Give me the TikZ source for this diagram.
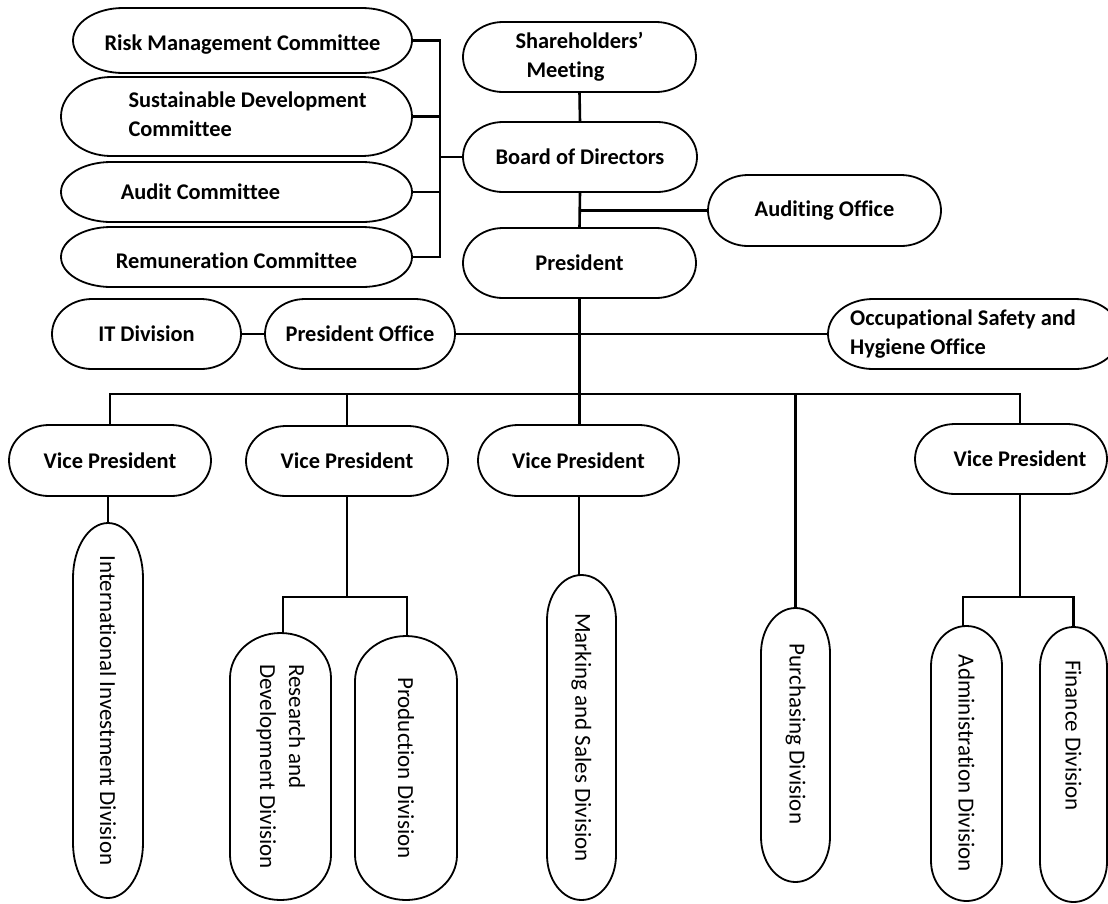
\documentclass[tikz,border=0pt]{standalone}
\usepackage{fontspec}
\setmainfont{Carlito}[Ligatures={NoCommon}]
\usepackage{graphicx}
\usetikzlibrary{calc}
\newcommand\bfnt{\fontsize{22.4}{29}\selectfont\bfseries}
\newcommand\rgnt{\fontsize{23}{29}\selectfont}
\newcommand\lowertxt[1]{\raisebox{0pt}[\dimexpr\height+8pt\relax]{#1}}
\newcommand\pillbox[3]{%
  \draw[outln] ([xshift=#2pt]#1.north west) -- ([xshift=-#2pt]#1.north east)
    arc[start angle=90,end angle=0,x radius=#2pt,y radius=#3pt]
    -- ([yshift=#3pt]#1.south east)
    arc[start angle=0,end angle=-90,x radius=#2pt,y radius=#3pt]
    -- ([xshift=#2pt]#1.south west)
    arc[start angle=270,end angle=180,x radius=#2pt,y radius=#3pt]
    -- ([yshift=-#3pt]#1.north west)
    arc[start angle=180,end angle=90,x radius=#2pt,y radius=#3pt] -- cycle;}
\tikzset{
  hbox/.style={draw=none, outer sep=0pt, inner sep=0pt, font=\bfnt, align=center},
  vbox/.style={draw=none, outer sep=0pt, inner sep=0pt, font=\rgnt},
  outln/.style={line width=1.8pt, black},
  conn/.style={line width=2.6pt, black}
}
\begin{document}
\begin{tikzpicture}[x=1pt,y=1pt]
\useasboundingbox (0,0) rectangle (1108,-903);
\fill[white] (0,0) rectangle (1108,-903);
% committees
\node[hbox, minimum width=339pt, minimum height=65pt] (risk) at (242.5,-40.5) {\lowertxt{Risk Management Committee}};
\node[hbox, minimum width=351pt, minimum height=79pt] (sust) at (236.5,-116.5) {\hspace*{22pt}\begin{tabular}{@{}l@{}}Sustainable Development\\Committee\end{tabular}};
\node[hbox, minimum width=351pt, minimum height=60pt] (audit) at (236.5,-192) {Audit Committee\hspace*{72pt}};
\node[hbox, minimum width=351pt, minimum height=60pt] (remun) at (236.5,-257) {\lowertxt{Remuneration Committee}};
% top chain
\node[hbox, minimum width=233pt, minimum height=70pt] (share) at (579.5,-57) {\begin{tabular}{@{}c@{}}Shareholders’\\Meeting\hspace*{28pt}\end{tabular}};
\node[hbox, minimum width=234pt, minimum height=70pt] (board) at (580,-157) {Board of Directors};
\node[hbox, minimum width=233pt, minimum height=71pt] (audoff) at (824.5,-210.5) {Auditing Office};
\node[hbox, minimum width=233pt, minimum height=70pt] (pres) at (579.5,-263) {President};
% office row
\node[hbox, minimum width=189pt, minimum height=70pt] (itdiv) at (146.5,-334) {IT Division};
\node[hbox, minimum width=190pt, minimum height=70pt] (presoff) at (360,-334) {President Office};
\node[hbox, minimum width=292pt, minimum height=70pt] (osh) at (974,-334) {\begin{tabular}{@{}l@{}}Occupational Safety and\\Hygiene Office\end{tabular}\hspace*{22pt}};
% vice presidents
\node[hbox, minimum width=202pt, minimum height=71pt] (vpa) at (110,-460.5) {Vice President};
\node[hbox, minimum width=202pt, minimum height=70pt] (vpb) at (347,-461) {Vice President};
\node[hbox, minimum width=201pt, minimum height=71pt] (vpc) at (578.5,-460.5) {Vice President};
\node[hbox, minimum width=192pt, minimum height=70pt] (vpd) at (1011,-459) {\hspace*{18pt}Vice President};
% divisions
\node[vbox, minimum width=70pt, minimum height=375pt] (intl) at (108,-710.5) {\rotatebox{-90}{International Investment Division}};
\node[vbox, minimum width=101pt, minimum height=267pt] (rnd) at (280.5,-766.5) {\rotatebox{-90}{\begin{tabular}{@{}l@{}}Research and\\Development Division\end{tabular}}};
\node[vbox, minimum width=102pt, minimum height=264pt] (prod) at (406,-768) {\rotatebox{-90}{Production Division}};
\node[vbox, minimum width=69pt, minimum height=325pt] (mark) at (581.5,-737.5) {\rotatebox{-90}{Marking and Sales Division}};
\node[vbox, minimum width=69pt, minimum height=274pt] (purch) at (795.5,-745) {\rotatebox{-90}{Purchasing Division\hspace*{22pt}}};
\node[vbox, minimum width=71pt, minimum height=275pt] (admin) at (966.5,-763.5) {\rotatebox{-90}{Administration Division}};
\node[vbox, minimum width=67pt, minimum height=275pt] (fin) at (1073.5,-764.5) {\rotatebox{-90}{Finance Division\hspace*{58pt}}};
% outlines
\pillbox{risk}{50}{32.5}
\pillbox{sust}{50}{39.5}
\pillbox{audit}{50}{30}
\pillbox{remun}{50}{30}
\pillbox{share}{40}{35}
\pillbox{board}{40}{35}
\pillbox{audoff}{40}{35.5}
\pillbox{pres}{40}{35}
\pillbox{itdiv}{40}{35}
\pillbox{presoff}{40}{35}
\pillbox{osh}{45}{35}
\pillbox{vpa}{40}{35.5}
\pillbox{vpb}{40}{35}
\pillbox{vpc}{40}{35.5}
\pillbox{vpd}{40}{35}
\pillbox{intl}{35}{55}
\pillbox{rnd}{50.5}{45}
\pillbox{prod}{51}{45}
\pillbox{mark}{34.5}{45}
\pillbox{purch}{34.5}{45}
\pillbox{admin}{35.5}{40}
\pillbox{fin}{33.5}{40}
% connectors
\coordinate (cbus) at (440,-158);
\coordinate (bus) at (579,-394);
\draw[conn] (risk.east) -- (risk.east -| cbus) -- (remun.east -| cbus) -- (remun.east);
\draw[conn] (sust.east) -- (sust.east -| cbus);
\draw[conn] (audit.east) -- (audit.east -| cbus);
\draw[conn] (board.west) -- (board.west -| cbus);
\draw[conn] (share.south) -- (board.north);
\draw[conn] (board.south) -- (pres.north);
\draw[conn] (audoff.west) -- (audoff.west -| board.south);
\draw[conn] (itdiv.east) -- (presoff.west);
\draw[conn] (presoff.east) -- (osh.west);
\draw[conn] (pres.south) -- (pres.south |- vpc.north);
\draw[conn] (vpa.north) |- (bus) -| ([xshift=9pt]vpd.north);
\draw[conn] (vpb.north) -- (vpb.north |- bus);
\draw[conn] (purch.north) -- (purch.north |- bus);
\draw[conn] (intl.north) -- (intl.north |- vpa.south);
\coordinate (rb) at ($(vpb.south)+(0,-101)$);
\draw[conn] (vpb.south) -- (rb);
\draw[conn] ([xshift=2.5pt]rnd.north) |- (rb) -| ([xshift=1pt]prod.north);
\draw[conn] ([xshift=-2.5pt]mark.north) -- ([xshift=-2.5pt]mark.north |- vpc.south);
\coordinate (ab) at ($([xshift=9pt]vpd.south)+(0,-103)$);
\draw[conn] ([xshift=9pt]vpd.south) -- (ab);
\draw[conn] ([xshift=-3.5pt]admin.north) |- (ab) -| (fin.north);
\end{tikzpicture}
\end{document}
